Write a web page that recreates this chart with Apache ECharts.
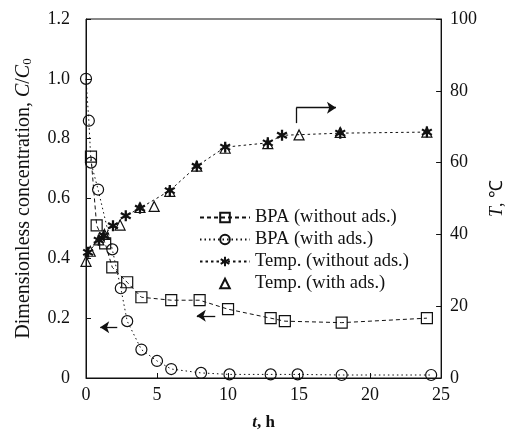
<!DOCTYPE html>
<html>
<head>
<meta charset="utf-8">
<script src="https://cdn.jsdelivr.net/npm/echarts@6/dist/echarts.min.js"></script>
<style>html,body{margin:0;padding:0;background:#fff}#c{width:514px;height:436px}</style>
</head>
<body>
<div id="c"></div>
<script>
// ---- data ----
const seriesNames = ['BPA (without ads.)', 'BPA (with ads.)', 'Temp. (without ads.)', 'Temp. (with ads.)'];
const bpaWithoutT = [0.35, 0.75, 1.35, 1.85, 2.9, 3.9, 6.0, 8.0, 10.0, 13.0, 14.0, 18.0, 24.0];
const bpaWithout  = [0.74, 0.51, 0.45, 0.37, 0.32, 0.27, 0.26, 0.26, 0.23, 0.20, 0.19, 0.185, 0.20];
const bpaWithT = [0, 0.2, 0.35, 0.85, 1.85, 2.45, 2.9, 3.9, 5.0, 6.0, 8.1, 10.1, 13.0, 14.9, 18.0, 24.3];
const bpaWith  = [1.0, 0.86, 0.72, 0.63, 0.43, 0.30, 0.19, 0.095, 0.057, 0.03, 0.017, 0.012, 0.012, 0.012, 0.01, 0.01];
const tempWithoutT = [0.15, 0.9, 1.25, 1.9, 2.8, 3.8, 5.9, 7.8, 9.8, 12.8, 13.8, 17.9, 24.0];
const tempWithout  = [35.0, 38.4, 39.7, 42.4, 45.2, 47.3, 52.2, 59.0, 64.3, 65.5, 67.6, 68.2, 68.5];
const tempWithT = [0, 0.3, 0.9, 1.3, 2.4, 3.8, 4.8, 5.9, 7.8, 9.8, 12.8, 15.0, 17.9, 24.0];
const tempWith  = [32.5, 35.3, 38.5, 40.0, 42.6, 47.5, 47.8, 52.0, 59.0, 64.0, 65.3, 67.7, 68.4, 68.5];
const xTickLabels = ['0', '5', '10', '15', '20', '25'];
const leftTickLabels = ['0', '0.2', '0.4', '0.6', '0.8', '1.0', '1.2'];
const rightTickLabels = ['0', '20', '40', '60', '80', '100'];
// annotation arrows (data coordinates)
const leftArrow1 = [[2.2, 0.17], [1.0, 0.17]];
const leftArrow2 = [[9.1, 0.208], [7.8, 0.208]];
const rightArrowStem = [[14.8, 71], [14.8, 75.3]];
const rightArrowHead = [[14.8, 75.3], [17.6, 75.3]];

const zip = (a, b) => a.map((v, i) => [v, b[i]]);
const FONT = '"Liberation Serif", "Times New Roman", serif';
const STAR = 'path://M4,0 L6,0 L6,10 L4,10 Z M0.17,3.37 L1.17,1.63 L9.83,6.63 L8.83,8.37 Z M1.17,8.37 L0.17,6.63 L8.83,1.63 L9.83,3.37 Z';
const INK = '#111';

const chart = echarts.init(document.getElementById('c'), null, {renderer: 'canvas'});
const arrowLine = (pts) => [{coord: pts[0], symbol: 'none'}, {coord: pts[1], symbol: 'arrow'}];

chart.setOption({
  animation: false,
  backgroundColor: '#fff',
  textStyle: {fontFamily: FONT, color: INK},
  grid: {left: 86, right: 63, top: 19, bottom: 45, show: true, borderColor: INK, borderWidth: 1, backgroundColor: 'transparent'},
  legend: {
    left: 194, top: 203, orient: 'vertical',
    itemWidth: 50, itemHeight: 12, itemGap: 3,
    data: seriesNames,
    textStyle: {fontFamily: FONT, fontSize: 18.5, lineHeight: 18, color: INK}
  },
  xAxis: {
    type: 'value', min: 0, max: 25, interval: 5,
    name: '{i|t}{b|, h}', nameLocation: 'middle', nameGap: 36,
    nameTextStyle: {rich: {i: {fontFamily: FONT, fontSize: 17, fontStyle: 'italic', fontWeight: 'bold', color: INK}, b: {fontFamily: FONT, fontSize: 17, fontWeight: 'bold', color: INK}}},
    axisLine: {show: true, lineStyle: {color: INK, width: 1}},
    axisTick: {show: true, inside: true, length: 5, lineStyle: {color: INK}},
    axisLabel: {fontFamily: FONT, fontSize: 18, color: INK, margin: 8, formatter: (v, i) => xTickLabels[i]},
    splitLine: {show: false}
  },
  yAxis: [{
    type: 'value', min: 0, max: 1.2, interval: 0.2, position: 'left',
    name: '{a|Dimensionless concentration, }{i|C}{a|/}{i|C}{s|0}',
    nameLocation: 'middle', nameGap: 52, nameRotate: 90,
    nameTextStyle: {rich: {
      a: {fontFamily: FONT, fontSize: 20, color: INK},
      i: {fontFamily: FONT, fontSize: 20, fontStyle: 'italic', color: INK},
      s: {fontFamily: FONT, fontSize: 13, color: INK, padding: [8, 0, 0, 0]}
    }},
    axisLine: {show: true, lineStyle: {color: INK, width: 1}},
    axisTick: {show: true, inside: true, length: 5, lineStyle: {color: INK}},
    axisLabel: {fontFamily: FONT, fontSize: 18, color: INK, margin: 16, formatter: (v, i) => leftTickLabels[i]},
    splitLine: {show: false}
  }, {
    type: 'value', min: 0, max: 100, interval: 20, position: 'right',
    name: '{i|T}{a|, ℃}', nameLocation: 'middle', nameGap: 42, nameRotate: 90,
    nameTextStyle: {rich: {
      a: {fontFamily: FONT, fontSize: 18, color: INK},
      i: {fontFamily: FONT, fontSize: 18, fontStyle: 'italic', color: INK}
    }},
    axisLine: {show: true, lineStyle: {color: INK, width: 1}},
    axisTick: {show: true, inside: true, length: 5, lineStyle: {color: INK}},
    axisLabel: {fontFamily: FONT, fontSize: 18, color: INK, margin: 9, formatter: (v, i) => rightTickLabels[i]},
    splitLine: {show: false}
  }],
  series: [{
    name: seriesNames[0], type: 'line', yAxisIndex: 0,
    data: zip(bpaWithoutT, bpaWithout),
    symbol: 'rect', symbolSize: 11, showAllSymbol: true,
    lineStyle: {color: INK, width: 1, type: [4, 3]},
    itemStyle: {color: 'rgba(255,255,255,0)', borderColor: INK, borderWidth: 1.2},
    markLine: {silent: true, symbolSize: 9, label: {show: false},
      lineStyle: {color: INK, width: 1.3, type: 'solid'},
      data: [arrowLine(leftArrow1), arrowLine(leftArrow2)]}
  }, {
    name: seriesNames[1], type: 'line', yAxisIndex: 0,
    data: zip(bpaWithT, bpaWith),
    symbol: 'circle', symbolSize: 11, showAllSymbol: true,
    lineStyle: {color: INK, width: 1, type: [1.5, 3]},
    itemStyle: {color: 'rgba(255,255,255,0)', borderColor: INK, borderWidth: 1.2}
  }, {
    name: seriesNames[2], type: 'line', yAxisIndex: 1,
    data: zip(tempWithoutT, tempWithout),
    symbol: STAR, symbolSize: 11, showAllSymbol: true,
    lineStyle: {color: INK, width: 1, type: [2.5, 3]},
    itemStyle: {color: INK, borderWidth: 0},
    markLine: {silent: true, symbolSize: 9, label: {show: false},
      lineStyle: {color: INK, width: 1.3, type: 'solid'},
      data: [[{coord: rightArrowStem[0], symbol: 'none'}, {coord: rightArrowStem[1], symbol: 'none'}], arrowLine(rightArrowHead)]}
  }, {
    name: seriesNames[3], type: 'line', yAxisIndex: 1,
    data: zip(tempWithT, tempWith),
    symbol: 'triangle', symbolSize: 10, showAllSymbol: true,
    lineStyle: {color: INK, width: 0, opacity: 0},
    itemStyle: {color: 'rgba(255,255,255,0)', borderColor: INK, borderWidth: 1.2}
  }]
});
</script>
</body>
</html>
